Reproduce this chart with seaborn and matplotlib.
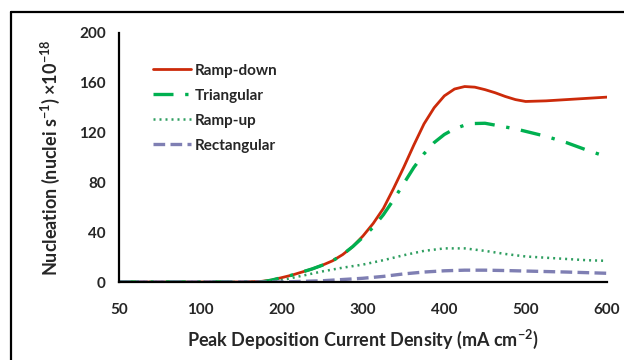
import matplotlib
matplotlib.use("Agg")
import matplotlib.pyplot as plt
from matplotlib.lines import Line2D
import numpy as np
import pandas as pd
import seaborn as sns

# Excel category axis: ticks equally spaced although values are not
categories = [50, 100, 200, 300, 400, 500, 600]

# readings (mA cm^-2); finer steps where the curves bend a lot
current_fine = [50, 100, 150, 175, 187.5, 200, 212.5, 225, 237.5, 250, 262.5, 275,
                287.5, 300, 312.5, 325, 337.5, 350, 362.5, 375, 387.5, 400, 412.5,
                425, 437.5, 450, 462.5, 475, 487.5, 500, 525, 550, 575, 600]
ramp_down = [0, 0, 0, 0.5, 1.5, 3.5, 5.5, 8, 10.5, 13.5, 17, 22,
             28.5, 37, 47, 59, 75, 92, 110, 127, 140, 149.5, 155,
             157, 156.5, 154.5, 152, 149, 146.5, 145, 145.5, 146.5, 147.5, 148.5]
triangular = [0, 0, 0, 0, 1.5, 3.5, 5.5, 8, 10.5, 13.5, 17, 22,
              28.5, 36, 44, 54, 66, 79, 92, 103, 112, 118.5, 123,
              126, 127.3, 127.5, 126, 124.5, 123, 121, 117, 112, 106, 100.5]

current = [50, 100, 150, 175, 200, 225, 250, 275, 300, 325, 350, 375,
           400, 425, 450, 475, 500, 525, 550, 575, 600]
ramp_up = [0, 0, 0, 0, 1.5, 5, 8.5, 11.5, 14, 17.5, 21.5, 25,
           27, 27, 25, 22.5, 20.5, 19.5, 18.5, 17.5, 17]
rectangular = [0, 0, 0, 0, 0, 0.5, 1, 2, 3, 4.5, 6.5, 8,
               9, 9.5, 9.5, 9.2, 8.8, 8.4, 8, 7.5, 7]

series = {
    "Ramp-down": (current_fine, ramp_down),
    "Triangular": (current_fine, triangular),
    "Ramp-up": (current, ramp_up),
    "Rectangular": (current, rectangular),
}
styles = {
    "Ramp-down": dict(color="#CC2A0A", lw=2.0, ls="-"),
    "Triangular": dict(color="#00B050", lw=2.4, ls=(0, (6, 3.5, 1, 3.5))),
    "Ramp-up": dict(color="#2E9E60", lw=1.8, ls=(0, (0.8, 1.6))),
    "Rectangular": dict(color="#7F7FB3", lw=2.4, ls=(0, (3.5, 1.6))),
}

df = pd.DataFrame(
    [(name, x, y) for name, (xs, ys) in series.items() for x, y in zip(xs, ys)],
    columns=["series", "current", "nucleation"],
)

sns.set_style("white")
plt.rcParams["font.family"] = ["Lato", "DejaVu Sans"]

idx = np.arange(len(categories), dtype=float)


def fwd(x):
    return np.interp(x, categories, idx)


def inv(p):
    return np.interp(p, idx, categories)


fig = plt.figure(figsize=(6.24, 3.6), dpi=100)
ax = fig.add_axes([119 / 624, 1 - 282 / 360, (607 - 119) / 624, (282 - 33) / 360])
ax.set_xscale("function", functions=(fwd, inv))

for name in series:
    st = styles[name]
    sns.lineplot(data=df[df["series"] == name], x="current", y="nucleation",
                 ax=ax, color=st["color"], linewidth=st["lw"], linestyle=st["ls"],
                 label=name, legend=False)

ax.set_xlim(50, 600)
ax.set_ylim(0, 200)
ax.set_xticks(categories)
ax.set_xticklabels([str(c) for c in categories])
ax.set_yticks(range(0, 201, 40))
ax.xaxis.set_minor_locator(matplotlib.ticker.NullLocator())

for s in ["top", "right"]:
    ax.spines[s].set_visible(False)
for s in ["left", "bottom"]:
    ax.spines[s].set_linewidth(1.6)
    ax.spines[s].set_color("black")
ax.tick_params(axis="both", direction="out", length=4.5, width=1.6, color="black",
               labelsize=11)
ax.tick_params(axis="y", pad=5)
ax.tick_params(axis="x", pad=10.5)
for lab in ax.get_xticklabels() + ax.get_yticklabels():
    lab.set_fontweight("bold")

ax.set_xlabel("Peak Deposition Current Density (mA cm$^{\\mathregular{-2}}$)",
              fontsize=13, fontweight="bold", labelpad=8)
ax.set_ylabel("Nucleation (nuclei s$^{\\mathregular{-1}}$) \u00d710$^{\\mathregular{-18}}$",
              fontsize=13, fontweight="bold", labelpad=12)

handles = [Line2D([], [], color=styles[n]["color"], lw=styles[n]["lw"],
                  ls=styles[n]["ls"]) for n in series]
leg = ax.legend(handles, list(series), loc="upper left",
                bbox_to_anchor=(145 / 624, 1 - 56 / 360), bbox_transform=fig.transFigure,
                frameon=False, fontsize=11, handlelength=2.5, handletextpad=0.26,
                labelspacing=0.72, borderpad=0)
for t in leg.get_texts():
    t.set_fontweight("bold")

# chart border (only top and left edges visible in the crop)
fig.add_artist(Line2D([11 / 624, 1], [1 - 12 / 360, 1 - 12 / 360], color="black",
                      lw=1.6, transform=fig.transFigure))
fig.add_artist(Line2D([11 / 624, 11 / 624], [0, 1 - 12 / 360], color="black",
                      lw=1.6, transform=fig.transFigure))

fig.savefig("out.png", dpi=100)
